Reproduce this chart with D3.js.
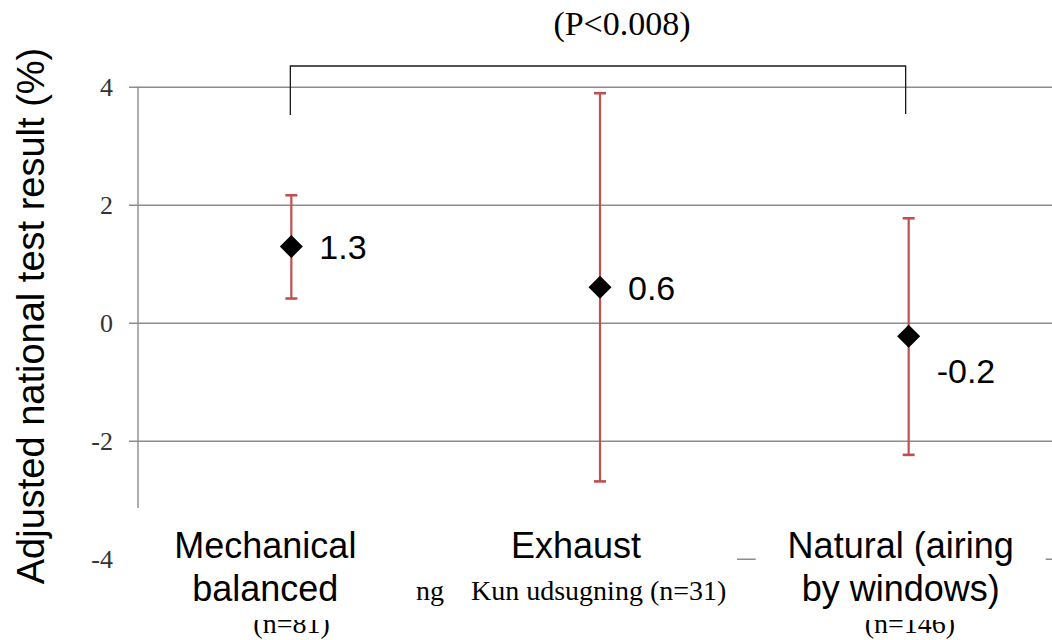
<!DOCTYPE html>
<html><head><meta charset="utf-8">
<script src="https://cdn.jsdelivr.net/npm/d3@7"></script>
<style>body{margin:0;background:#fff}svg{display:block}</style>
</head><body>
<svg id="c" width="1052" height="640"></svg>
<script>
const categories = ["Mechanical balanced", "Exhaust", "Natural (airing by windows)"];
const categoryLines = [["Mechanical","balanced"],["Exhaust"],["Natural (airing","by windows)"]];
const means = [1.29, 0.60, -0.23];
const lower = [0.41, -2.69, -2.24];
const upper = [2.16, 3.89, 1.77];
const yTicks = [-4, -2, 0, 2, 4];
const pText = "(P<0.008)";
const yTitle = "Adjusted national test result (%)";
const hiddenTexts = ["(n=81)", "ng", "Kun udsugning (n=31)", "(n=146)"];

const svg = d3.select("#c");
const y = d3.scaleLinear().domain([-4, 4]).range([558.7, 86.7]);
const x = d3.scalePoint().domain(categories).range([137, 1063]).padding(0.5);
const gridColor = "#8c8c8c";
const red = "#c0504d";
const hyph = f => d => f(d).replace("\u2212", "-");

// gridlines
const grid = svg.append("g").attr("transform", "translate(129,0)")
  .call(d3.axisRight(y).tickValues(yTicks).tickSize(940).tickFormat(""));
grid.select(".domain").remove();
grid.selectAll("line").attr("stroke", gridColor).attr("stroke-width", 1.4);

// tick labels
const ax = svg.append("g").attr("transform", "translate(129,0)")
  .call(d3.axisLeft(y).tickValues(yTicks).tickSize(0).tickPadding(16).tickFormat(hyph(d3.format("d"))));
ax.select(".domain").remove();
ax.selectAll("text").attr("font-family", "'Liberation Serif', serif").attr("font-size", 26).attr("fill", "#333");

// y axis line
svg.append("line").attr("x1", 138).attr("x2", 138).attr("y1", y(4)).attr("y2", y(-4))
  .attr("stroke", gridColor).attr("stroke-width", 1.4);

// y title
svg.append("text").attr("transform", `translate(44,316) rotate(-90)`)
  .attr("text-anchor", "middle").attr("font-family", "'Liberation Sans', Arial, sans-serif")
  .attr("font-size", 38).attr("fill", "#000").text(yTitle);

// partially hidden background texts
const serif = "'Liberation Serif', serif";
const hidPos = [[x(categories[0]) - 38, 633], [416, 600], [471, 600], [x(categories[2]) - 44, 633]];
hiddenTexts.forEach((t, i) => {
  svg.append("text").attr("x", hidPos[i][0]).attr("y", hidPos[i][1])
    .attr("font-family", serif).attr("font-size", 28).attr("fill", "#000").text(t);
});

// category labels with white boxes
const labelNudge = [-26, -24, -8];
const boxHalf = [150, 161, 145];
const cat = svg.append("g");
categories.forEach((c, i) => {
  const cx = x(c) + labelNudge[i];
  const n = categoryLines[i].length;
  cat.append("rect").attr("x", cx - boxHalf[i]).attr("y", 508).attr("width", boxHalf[i] * 2)
    .attr("height", n === 1 ? 70 : 112).attr("fill", "#fff");
  const t = cat.append("text").attr("text-anchor", "middle")
    .attr("font-family", "'Liberation Sans', Arial, sans-serif").attr("font-size", 36).attr("fill", "#000");
  categoryLines[i].forEach((ln, j) => {
    t.append("tspan").attr("x", cx).attr("y", 558 + j * 43).text(ln);
  });
});

// error bars
const eb = svg.append("g").attr("stroke", red);
categories.forEach((c, i) => {
  const cx = x(c);
  eb.append("line").attr("x1", cx).attr("x2", cx).attr("y1", y(upper[i])).attr("y2", y(lower[i])).attr("stroke-width", 2.2);
  [upper[i], lower[i]].forEach(v => {
    eb.append("line").attr("x1", cx - 6).attr("x2", cx + 6).attr("y1", y(v)).attr("y2", y(v)).attr("stroke-width", 2.6);
  });
});

// diamonds
svg.append("g").selectAll("path").data(means).join("path")
  .attr("d", d3.symbol(d3.symbolSquare, 265))
  .attr("transform", (d, i) => `translate(${x(categories[i])},${y(d)}) rotate(45)`)
  .attr("fill", "#000");

// data labels
const labelDy = [0, 0, 34];
svg.append("g").selectAll("text").data(means).join("text")
  .attr("x", (d, i) => x(categories[i]) + 28)
  .attr("y", (d, i) => y(d) + labelDy[i])
  .attr("dy", "0.36em")
  .attr("font-family", "'Liberation Sans', Arial, sans-serif").attr("font-size", 34).attr("fill", "#000")
  .text(hyph(d3.format(".1f")));

// significance bracket
const bx1 = x(categories[0]) - 1, bx2 = x(categories[2]) - 3;
svg.append("path").attr("d", `M${bx1},115 V66 H${bx2} V114`).attr("fill", "none")
  .attr("stroke", "#1a1a1a").attr("stroke-width", 1.3);
svg.append("text").attr("x", 622).attr("y", 35).attr("text-anchor", "middle")
  .attr("font-family", serif).attr("font-size", 34).attr("fill", "#000").text(pText);
</script>
</body></html>
